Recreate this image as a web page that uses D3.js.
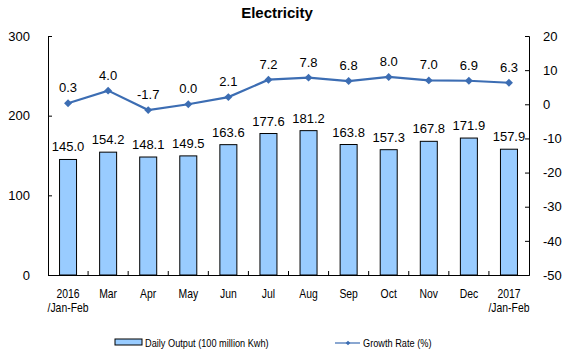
<!DOCTYPE html>
<html><head><meta charset="utf-8">
<script src="https://cdn.jsdelivr.net/npm/d3@7"></script>
<style>body{margin:0;background:#fff}svg{display:block}</style>
</head><body>
<svg id="c" width="578" height="355"></svg>
<script>
const categories = [["2016","/Jan-Feb"],["Mar"],["Apr"],["May"],["Jun"],["Jul"],["Aug"],["Sep"],["Oct"],["Nov"],["Dec"],["2017","/Jan-Feb"]];
const dailyOutput = [145.0,154.2,148.1,149.5,163.6,177.6,181.2,163.8,157.3,167.8,171.9,157.9];
const growthRate = [0.3,4.0,-1.7,0.0,2.1,7.2,7.8,6.8,8.0,7.0,6.9,6.3];
const leftTicks = [0,100,200,300];
const rightTicks = [-50,-40,-30,-20,-10,0,10,20];

const svg = d3.select("#c");
const L = 48, R = 529, T = 36, B = 275;
const font = "Arial, 'Liberation Sans', sans-serif";
const lineColor = "#3c6db3";

const x = d3.scaleBand().domain(d3.range(categories.length)).range([L, R]).padding(0);
const yL = d3.scaleLinear().domain([0, 300]).range([B, T]);
const yR = d3.scaleLinear().domain([-50, 20]).range([B, T]);

svg.append("text").attr("x", 277).attr("y", 18).attr("text-anchor", "middle")
  .attr("font-family", font).attr("font-weight", "bold").attr("font-size", 15).text("Electricity");

// bars
const bw = 17;
svg.append("g").selectAll("rect").data(dailyOutput).join("rect")
  .attr("x", (d, i) => x(i) + x.bandwidth() / 2 - bw / 2)
  .attr("y", d => yL(d)).attr("width", bw).attr("height", d => B - yL(d))
  .attr("fill", "#99ccff").attr("stroke", "#000").attr("stroke-width", 1);

// axes
const fmt = d => String(d);
const gL = svg.append("g").attr("transform", `translate(${L},0)`)
  .call(d3.axisLeft(yL).tickValues(leftTicks).tickFormat(fmt).tickSize(-4).tickPadding(18));
const gR = svg.append("g").attr("transform", `translate(${R},0)`)
  .call(d3.axisRight(yR).tickValues(rightTicks).tickFormat(fmt).tickSize(-4).tickPadding(14));
const gX = svg.append("g").attr("transform", `translate(0,${B})`)
  .call(d3.axisBottom(x).tickValues([]).tickSizeOuter(0));
[gL, gR, gX].forEach(g => {
  g.select(".domain").attr("stroke", "#000");
  g.selectAll(".tick line").attr("stroke", "#000");
  g.selectAll("text").attr("font-family", font).attr("font-size", 13).attr("fill", "#000");
});
gR.selectAll("text").attr("text-anchor", "start");
// category separator ticks (inward)
svg.append("g").selectAll("line").data(d3.range(1, categories.length)).join("line")
  .attr("x1", i => x(i)).attr("x2", i => x(i)).attr("y1", B).attr("y2", B - 4)
  .attr("stroke", "#000");

// x labels (condensed)
const xl = svg.append("g").selectAll("g").data(categories).join("g")
  .attr("transform", (d, i) => `translate(${x(i) + x.bandwidth() / 2},298) scale(0.8,1)`);
xl.selectAll("text").data(d => d).join("text")
  .attr("x", 0).attr("y", (d, j) => j * 14)
  .attr("text-anchor", "middle").attr("font-family", font).attr("font-size", 13)
  .text(d => d);

// bar labels
svg.append("g").selectAll("text").data(dailyOutput).join("text")
  .attr("x", (d, i) => x(i) + x.bandwidth() / 2).attr("y", d => yL(d) - 8)
  .attr("text-anchor", "middle").attr("font-family", font).attr("font-size", 13)
  .text(d => d.toFixed(1));

// line
const line = d3.line().x((d, i) => x(i) + x.bandwidth() / 2).y(d => yR(d));
svg.append("path").datum(growthRate).attr("d", line).attr("fill", "none")
  .attr("stroke", lineColor).attr("stroke-width", 2.2);
const diamond = d3.symbol().type(d3.symbolDiamond2).size(40);
svg.append("g").selectAll("path").data(growthRate).join("path")
  .attr("transform", (d, i) => `translate(${x(i) + x.bandwidth() / 2},${yR(d)})`)
  .attr("d", diamond).attr("fill", lineColor);
svg.append("g").selectAll("text").data(growthRate).join("text")
  .attr("x", (d, i) => x(i) + x.bandwidth() / 2).attr("y", d => yR(d) - 11)
  .attr("text-anchor", "middle").attr("font-family", font).attr("font-size", 13)
  .text(d => d.toFixed(1));

// legend
const lg = svg.append("g");
lg.append("rect").attr("x", 115).attr("y", 339).attr("width", 27).attr("height", 6)
  .attr("fill", "#99ccff").attr("stroke", "#000");
lg.append("text").attr("transform", "translate(145,347) scale(0.8,1)")
  .attr("font-family", font).attr("font-size", 11.5)
  .text("Daily Output (100 million Kwh)");
lg.append("line").attr("x1", 335).attr("x2", 360).attr("y1", 343).attr("y2", 343)
  .attr("stroke", lineColor).attr("stroke-width", 1.2);
lg.append("path").attr("transform", "translate(348,343)").attr("d", d3.symbol().type(d3.symbolDiamond2).size(14)).attr("fill", lineColor);
lg.append("text").attr("transform", "translate(363,347) scale(0.8,1)")
  .attr("font-family", font).attr("font-size", 11.5)
  .text("Growth Rate (%)");
</script>
</body></html>
